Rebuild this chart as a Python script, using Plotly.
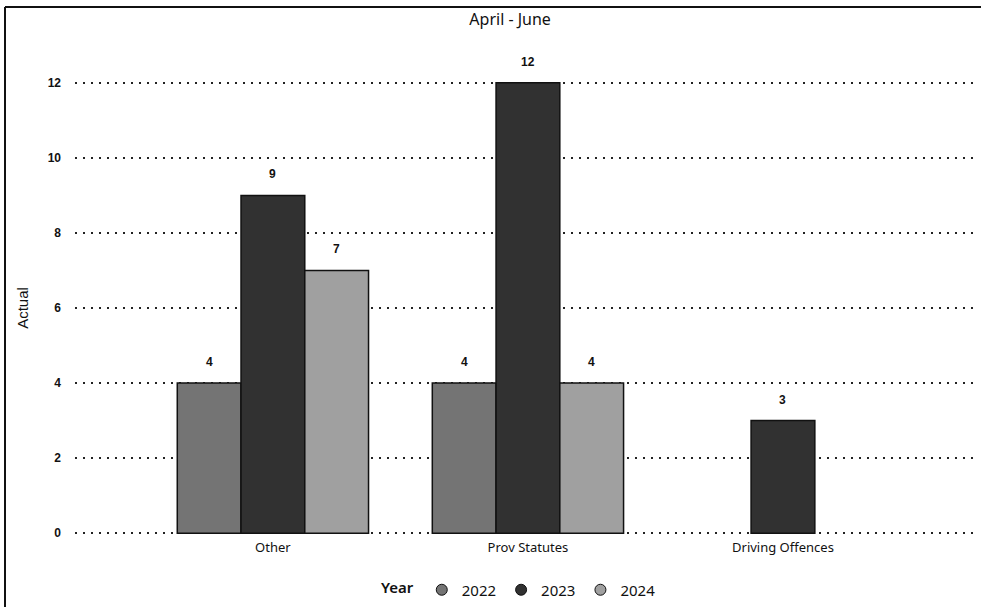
import plotly.graph_objects as go

categories = ["Other", "Prov Statutes", "Driving Offences"]
years = ["2022", "2023", "2024"]
values_2022 = [4, 4, None]
values_2023 = [9, 12, 3]
values_2024 = [7, 4, None]
y_ticks = [0, 2, 4, 6, 8, 10, 12]

series = [values_2022, values_2023, values_2024]
colors = ["#747474", "#313131", "#a0a0a0"]
num_font = "Liberation Sans, Arial"

# layout geometry
L, R, T, B = 75, 6, 79, 70
W, H = 981, 607
x_range = [-0.776, 2.753]
y_range = [-0.1, 12.1]
bargap = 0.25
px_per_cat = (W - L - R) / (x_range[1] - x_range[0])
bar_px = (1 - bargap) / len(years) * px_per_cat

fig = go.Figure()
annotations = []
for i, (yr, vals, col) in enumerate(zip(years, series, colors)):
    fig.add_trace(go.Bar(
        x=categories, y=vals, name=yr, showlegend=False,
        marker=dict(color=col, line=dict(color="#111111", width=1.5)),
    ))
    for cat, v in zip(categories, vals):
        if v is None:
            continue
        annotations.append(dict(
            x=cat, y=v, xref="x", yref="y", text=str(v), showarrow=False,
            xshift=(i - 1) * bar_px, yshift=21, yanchor="middle",
            font=dict(size=12, color="#111111", family=num_font, weight="bold"),
        ))
for yr, col in zip(years, colors):
    fig.add_trace(go.Scatter(
        x=[None], y=[None], mode="markers", name=yr,
        marker=dict(symbol="circle", size=11, color=col, line=dict(color="#111111", width=1)),
    ))

plot_h = H - T - B
top_paper = (H - B - 7) / plot_h
left_paper = (5 - L) / (W - L - R)

fig.update_layout(
    width=W, height=H,
    margin=dict(l=L, r=R, t=T, b=B),
    paper_bgcolor="white", plot_bgcolor="white",
    barmode="group", bargap=bargap, bargroupgap=0,
    font=dict(family="Noto Sans, Arial", color="#111111"),
    title=dict(text="April - June", x=0.52, xanchor="center", y=1 - 19 / H, yanchor="middle",
               font=dict(size=16, family="Noto Sans, Arial", color="#111111")),
    xaxis=dict(range=x_range, showgrid=False, showline=False, ticks="",
               tickfont=dict(size=13, color="#111111")),
    yaxis=dict(range=y_range, tickvals=y_ticks, showgrid=True, gridcolor="#222222",
               griddash="2px,6px", gridwidth=1.5, zeroline=False, showline=False, ticks="",
               ticklabelstandoff=13,
               tickfont=dict(size=12, family=num_font, color="#111111", weight="bold"),
               title=dict(text="Actual", standoff=15,
                          font=dict(size=15, family=num_font, color="#111111"))),
    legend=dict(orientation="h", x=0.53, xanchor="center", xref="container",
                y=1 - 590 / H, yanchor="middle", yref="container",
                title=dict(text="Year", font=dict(size=15, family="Noto Sans", color="#111111", weight=600)),
                font=dict(size=15, family="Noto Sans", color="#111111"),
                itemwidth=30, itemclick=False),
    annotations=annotations,
    shapes=[
        dict(type="line", xref="paper", yref="paper", x0=left_paper, x1=1.01, y0=top_paper, y1=top_paper,
             line=dict(color="#111111", width=2)),
        dict(type="line", xref="paper", yref="paper", x0=left_paper, x1=left_paper, y0=top_paper, y1=-0.2,
             line=dict(color="#111111", width=2)),
    ],
)
fig.update_xaxes(ticklabelstandoff=1)

fig.write_html("out.html", config={"displayModeBar": False},
               post_script="document.body.style.margin='0';document.body.style.overflow='hidden';")
